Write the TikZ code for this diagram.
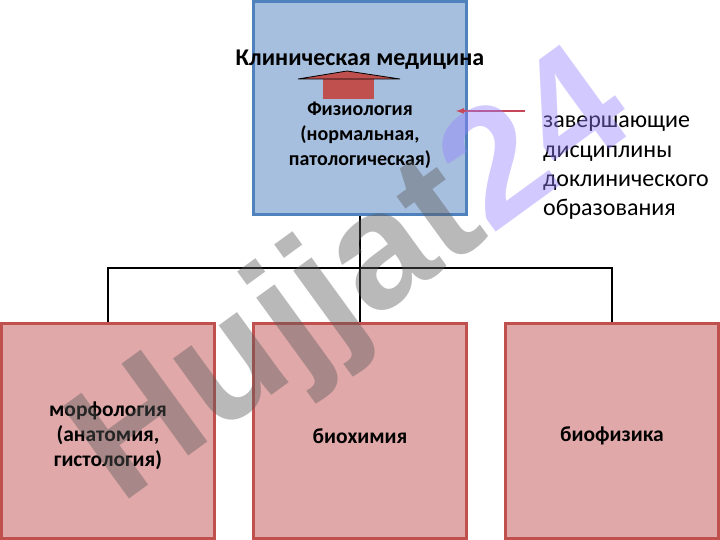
\documentclass[tikz,border=0pt]{standalone}
\usepackage{fontspec}
\usepackage{pdfrender}
\setmainfont{Carlito}
\newfontfamily\wmfont{Liberation Sans}
\usetikzlibrary{arrows.meta}

\definecolor{boxblue}{RGB}{167,191,222}
\definecolor{lineblue}{RGB}{79,129,189}
\definecolor{boxpink}{RGB}{224,168,168}
\definecolor{linered}{RGB}{192,80,77}
\definecolor{arrowred}{RGB}{200,70,90}
\definecolor{wmgray}{RGB}{90,90,90}
\definecolor{wmlav}{RGB}{150,130,255}

\tikzset{
  topbox/.style={draw=lineblue, line width=3pt, fill=boxblue, minimum width=213pt, minimum height=213pt, inner sep=0pt},
  subbox/.style={draw=linered, line width=3pt, fill=boxpink, minimum width=213pt, minimum height=215pt, inner sep=0pt},
  boldlbl/.style={font=\bfseries\fontsize{20}{25}\selectfont, align=center},
  sublbl/.style={font=\bfseries\fontsize{21.5}{25}\selectfont, align=center},
  tree/.style={line width=1.6pt}
}

\begin{document}
\begin{tikzpicture}[x=1pt,y=-1pt]
\useasboundingbox[fill=white] (0,0) rectangle (720,540);

% boxes
\node[topbox] (clin) at (360,108) {};
\node[subbox] (morph) at (108,431) {};
\node[subbox] (bioch) at (360,431) {};
\node[subbox] (biophys) at (612,431) {};

% tree
\draw[tree] (clin.south) -- ++(0,52) coordinate (fork);
\draw[tree] (morph.north) |- (fork) -| (biophys.north);
\draw[tree] (fork) -- (bioch.north);

% texts in the top box
\node[font=\bfseries\fontsize{24}{29}\selectfont] (title) at (360,60) {Клиническая медицина};
\fill[linered] (323,79) rectangle (374,99);
\filldraw[fill=linered, draw=black, line width=0.8pt] (298,79) -- (347,71) -- (400,79) -- cycle;
\node[boldlbl] (physio) at (360,135) {Физиология\\(нормальная,\\патологическая)};

% side note
\coordinate (notetail) at (525,111);
\coordinate (notetip) at (455,111);
\draw[arrowred, line width=2pt, -{Latex[length=9pt,width=6pt]}] (notetail) -- (notetip);
\node[anchor=north west, align=left, font=\fontsize{24}{29.3}\selectfont, inner sep=0pt] (note) at (543,116)
  {завершающие\\дисциплины\\доклинического\\образования};

% texts in the lower boxes
\node[sublbl] (morphtxt) at ([yshift=-5pt]morph.center) {морфология\\(анатомия,\\гистология)};
\node[sublbl] (biochtxt) at ([yshift=-5pt]bioch.center) {биохимия};
\node[sublbl] (biophystxt) at ([yshift=-5pt]biophys.center) {биофизика};

% watermark
\node[rotate=36, font=\wmfont\bfseries\fontsize{165}{165}\selectfont, opacity=0.42] (wm) at (355,282)
  {\textpdfrender{TextRenderingMode=2, LineWidth=7}{\textcolor{wmgray}{Hujjat}\textcolor{wmlav}{24}}};

\end{tikzpicture}
\end{document}
